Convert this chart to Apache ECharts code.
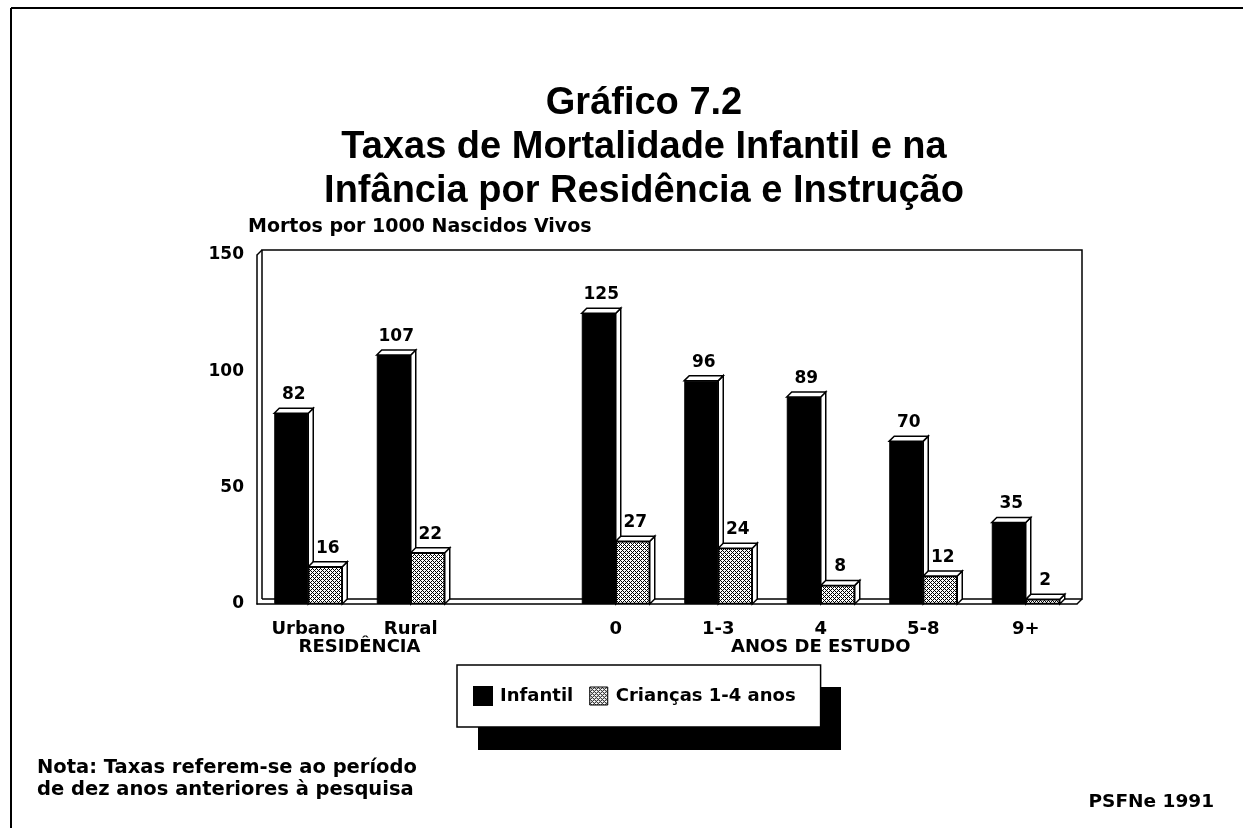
<!DOCTYPE html>
<html>
<head>
<meta charset="utf-8">
<script src="https://cdn.jsdelivr.net/npm/echarts@6/dist/echarts.min.js"></script>
<style>
html,body{margin:0;padding:0;background:#fff;}
#chart{width:1243px;height:828px;}
</style>
</head>
<body>
<div id="chart"></div>
<script>
// ---- Data ----
const CATEGORIES = ['Urbano', 'Rural', '', '0', '1-3', '4', '5-8', '9+'];
const INFANTIL = [82, 107, null, 125, 96, 89, 70, 35];
const CRIANCAS = [16, 22, null, 27, 24, 8, 12, 2];
const SERIES_NAMES = ['Infantil', 'Crianças 1-4 anos'];
const GROUPS = [
  { name: 'RESIDÊNCIA', from: 0, to: 1 },
  { name: 'ANOS DE ESTUDO', from: 3, to: 7 }
];
const Y_MIN = 0, Y_MAX = 150, Y_INTERVAL = 50;
const TITLE_LINES = ['Gráfico 7.2', 'Taxas de Mortalidade Infantil e na', 'Infância por Residência e Instrução'];
const Y_NAME = 'Mortos por 1000 Nascidos Vivos';
const NOTE_LINES = ['Nota: Taxas referem-se ao período', 'de dez anos anteriores à pesquisa'];
const SOURCE = 'PSFNe 1991';

// ---- Style ----
const FONT = 'DejaVu Sans';
const G = { left: 257, top: 255, right: 166, bottom: 224 };
const W = 1243, H = 828;
const BAR_W = 34;
const DEPTH = 5;
const LEGEND_BOX = { x: 457, y: 665, w: 363, h: 63, sx: 21, sy: 22 };

function makePattern() {
  const c = document.createElement('canvas');
  c.width = 4; c.height = 4;
  const g = c.getContext('2d');
  g.fillStyle = '#fff'; g.fillRect(0, 0, 4, 4);
  g.fillStyle = '#000';
  for (let x = 0; x < 4; x++) for (let y = 0; y < 4; y++) {
    if ((x + y) % 4 === 0 || (x - y + 4) % 4 === 0) g.fillRect(x, y, 1, 1);
  }
  return c;
}
const PATTERN = { image: makePattern(), repeat: 'repeat' };

function toPairs(arr) {
  const out = [];
  arr.forEach((v, i) => { if (v !== null && v !== undefined) out.push([i, v]); });
  return out;
}

function render3D(side) {
  return function (params, api) {
    const i = api.value(0), v = api.value(1);
    const top = api.coord([i, v]);
    const base = api.coord([i, 0]);
    const x0 = side < 0 ? top[0] - BAR_W : top[0];
    const x1 = x0 + BAR_W;
    const y = top[1], yb = base[1];
    const st = { fill: '#fff', stroke: '#000', lineWidth: 1.5 };
    return {
      type: 'group',
      children: [
        { type: 'polygon', shape: { points: [[x1, y], [x1 + DEPTH, y - DEPTH], [x1 + DEPTH, yb - DEPTH], [x1, yb]] }, style: st },
        { type: 'polygon', shape: { points: [[x0, y], [x0 + DEPTH, y - DEPTH], [x1 + DEPTH, y - DEPTH], [x1, y]] }, style: st }
      ]
    };
  };
}

const labelStyle = {
  show: true, position: 'top', distance: 10, offset: [2.5, 0],
  color: '#000', fontFamily: FONT, fontWeight: 'bold', fontSize: 17
};

const gx0 = G.left, gx1 = W - G.right, gy0 = G.top, gy1 = H - G.bottom;
const frameStyle = { stroke: '#000', lineWidth: 1.5, fill: null };

const chart = echarts.init(document.getElementById('chart'), null, { renderer: 'canvas' });
chart.setOption({
  animation: false,
  backgroundColor: '#fff',
  title: [
    {
      text: TITLE_LINES.join('\n'), left: 644, top: 82, textAlign: 'center',
      padding: 0,
      textStyle: { fontFamily: 'Liberation Sans', fontWeight: 'bold', fontSize: 38, lineHeight: 44, color: '#000' }
    },
    {
      text: NOTE_LINES.join('\n'), left: 32, top: 752,
      textStyle: { fontFamily: FONT, fontWeight: 'bold', fontSize: 19.5, lineHeight: 22, color: '#000' }
    },
    {
      text: SOURCE, right: 24, top: 788,
      textStyle: { fontFamily: FONT, fontWeight: 'bold', fontSize: 18.5, color: '#000' }
    }
  ],
  legend: {
    data: [
      { name: SERIES_NAMES[0], icon: 'rect', itemStyle: { color: '#000' } },
      { name: SERIES_NAMES[1], icon: 'rect', itemStyle: { color: PATTERN, borderColor: '#000', borderWidth: 1 } }
    ],
    left: LEGEND_BOX.x, top: LEGEND_BOX.y, z: 10,
    padding: [21, 25, 21, 16],
    itemWidth: 18, itemHeight: 18, itemGap: 16,
    backgroundColor: '#fff', borderColor: '#000', borderWidth: 1.5,
    selectedMode: false,
    textStyle: { fontFamily: FONT, fontWeight: 'bold', fontSize: 18, color: '#000', padding: [0, 0, 0, 3] }
  },
  grid: { left: G.left, top: G.top, right: G.right, bottom: G.bottom, containLabel: false },
  xAxis: [
    {
      type: 'category', data: CATEGORIES, position: 'bottom',
      axisLine: { show: true, lineStyle: { color: '#000', width: 1.5 } },
      axisTick: { show: false },
      axisLabel: { interval: 0, margin: 16, color: '#000', fontFamily: FONT, fontWeight: 'bold', fontSize: 18 }
    },
    {
      type: 'value', min: 0, max: CATEGORIES.length, position: 'bottom',
      axisLine: { show: false }, axisTick: { show: false }, splitLine: { show: false },
      axisLabel: {
        customValues: GROUPS.map(g => (g.from + g.to + 1) / 2),
        formatter: function (val) {
          const g = GROUPS.find(gr => Math.abs((gr.from + gr.to + 1) / 2 - val) < 1e-6);
          return g ? g.name : '';
        },
        margin: 34, color: '#000', fontFamily: FONT, fontWeight: 'bold', fontSize: 18
      }
    }
  ],
  yAxis: {
    type: 'value', min: Y_MIN, max: Y_MAX, interval: Y_INTERVAL,
    name: Y_NAME, nameLocation: 'end', nameGap: 18,
    nameTextStyle: { align: 'left', color: '#000', fontFamily: FONT, fontWeight: 'bold', fontSize: 19, padding: [0, 0, 0, -9] },
    axisLine: { show: true, lineStyle: { color: '#000', width: 1.5 } },
    axisTick: { show: false },
    splitLine: { show: false },
    axisLabel: { margin: 13, color: '#000', fontFamily: FONT, fontWeight: 'bold', fontSize: 17 }
  },
  graphic: [
    { type: 'line', z: 100, shape: { x1: 11, y1: 8, x2: W, y2: 8 }, style: { stroke: '#000', lineWidth: 2 } },
    { type: 'line', z: 100, shape: { x1: 11, y1: 8, x2: 11, y2: H }, style: { stroke: '#000', lineWidth: 2 } },
    { type: 'rect', z: 1, shape: { x: LEGEND_BOX.x + LEGEND_BOX.sx, y: LEGEND_BOX.y + LEGEND_BOX.sy, width: LEGEND_BOX.w, height: LEGEND_BOX.h }, style: { fill: '#000' } },
    { type: 'polyline', z: 0, shape: { points: [[gx0 + DEPTH, gy1 - DEPTH], [gx0 + DEPTH, gy0 - DEPTH], [gx1 + DEPTH, gy0 - DEPTH], [gx1 + DEPTH, gy1 - DEPTH], [gx0 + DEPTH, gy1 - DEPTH]] }, style: frameStyle },
    { type: 'line', z: 0, shape: { x1: gx0, y1: gy0, x2: gx0 + DEPTH, y2: gy0 - DEPTH }, style: frameStyle },
    { type: 'line', z: 0, shape: { x1: gx1, y1: gy1, x2: gx1 + DEPTH, y2: gy1 - DEPTH }, style: frameStyle }
  ],
  series: [
    {
      name: SERIES_NAMES[0], type: 'bar', xAxisIndex: 0, data: INFANTIL, barWidth: BAR_W, barGap: '0%', z: 2,
      itemStyle: { color: '#000', borderColor: '#000', borderWidth: 1 },
      label: labelStyle
    },
    {
      name: SERIES_NAMES[0] + ' 3D', type: 'custom', xAxisIndex: 0, data: toPairs(INFANTIL), z: 3,
      renderItem: render3D(-1), silent: true
    },
    {
      name: SERIES_NAMES[1], type: 'bar', xAxisIndex: 0, data: CRIANCAS, barWidth: BAR_W, barGap: '0%', z: 4,
      itemStyle: { color: PATTERN, borderColor: '#000', borderWidth: 1.2 },
      label: labelStyle
    },
    {
      name: SERIES_NAMES[1] + ' 3D', type: 'custom', xAxisIndex: 0, data: toPairs(CRIANCAS), z: 5,
      renderItem: render3D(1), silent: true
    }
  ]
});
</script>
</body>
</html>
